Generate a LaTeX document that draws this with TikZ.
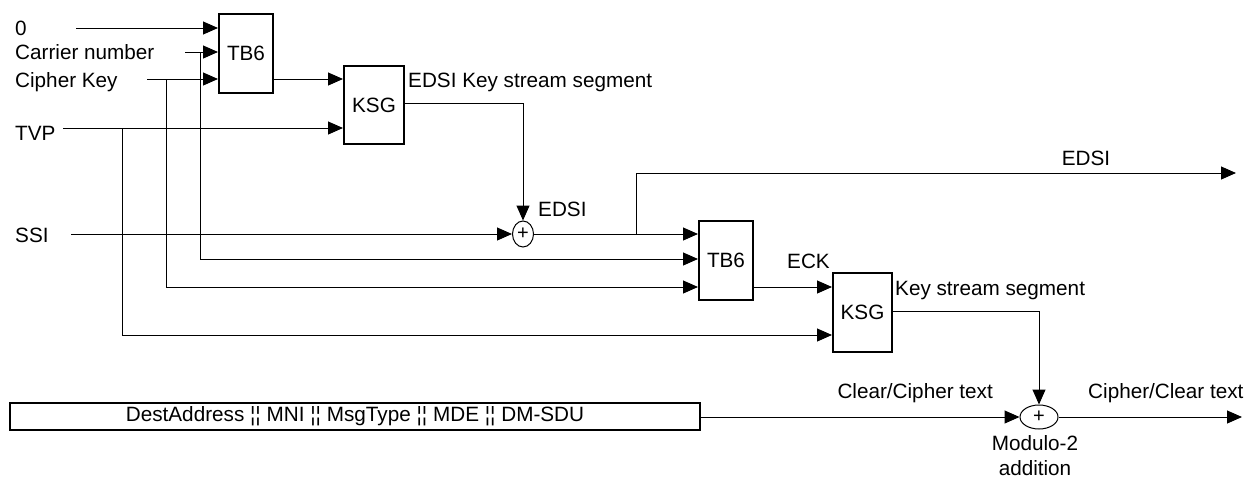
\documentclass[tikz,border=0pt]{standalone}
\usepackage{fontspec}
\setmainfont{Liberation Sans}
\usetikzlibrary{arrows.meta,shapes.geometric}
\begin{document}
\begin{tikzpicture}[x=1pt,y=-1pt,
  every node/.style={font=\fontsize{20.7}{24}\selectfont, inner sep=0pt},
  lbl/.style={anchor=base west},
  blk/.style={draw, line width=2pt, rectangle, minimum width=54pt, minimum height=79pt},
  xorop/.style={draw, line width=1pt, ellipse, font=\fontsize{20}{20}\selectfont},
  ln/.style={line width=1pt},
  arr/.style={line width=1pt, -{Triangle[length=15pt,width=13pt]}}]
\useasboundingbox (0,0) rectangle (1247,477);
% labels
\node[lbl] (l0) at (15,35) {0};
\node[lbl] (lcar) at (15,59) {Carrier number};
\node[lbl] (lck) at (15,87) {Cipher Key};
\node[lbl] (ltvp) at (15,140) {TVP};
\node[lbl] (lssi) at (15,242) {SSI};
% blocks
\node[blk] (tb1) at (246,53.5) {TB6};
\node[blk, minimum width=60pt, minimum height=78pt] (ksg1) at (374,105) {KSG};
\node[blk] (tb2) at (726,260.5) {TB6};
\node[blk, minimum width=59pt] (ksg2) at (862.5,312.5) {KSG};
\node[xorop, minimum width=21pt, minimum height=26pt] (xor1) at (523,234) {+};
\node[xorop, minimum width=38pt, minimum height=24pt] (xor2) at (1039,417) {+};
\node[draw, line width=2pt, minimum width=690pt, minimum height=27pt] (bar) at (355,416.5) {DestAddress ¦¦ MNI ¦¦ MsgType ¦¦ MDE ¦¦ DM-SDU};
% text labels
\node[lbl] (tksg1) at (408,87) {EDSI Key stream segment};
\node[lbl] (tedsi1) at (538,216) {EDSI};
\node[anchor=base] (tedsi2) at (1086,165) {EDSI};
\node[lbl] (teck) at (787,268) {ECK};
\node[lbl] (tksg2) at (895,295) {Key stream segment};
\node[anchor=base east] (tclear) at (993,398) {Clear/Cipher text};
\node[lbl] (tcipher) at (1088,398) {Cipher/Clear text};
\node[anchor=base] (tmod) at (1035,450) {Modulo-2};
\node[anchor=base] (tadd) at (1035,475) {addition};
% coordinates
\coordinate (s0) at (76,28);
\coordinate (scar) at (185,52);
\coordinate (sck) at (147,79);
\coordinate (stvp) at (63,128);
\coordinate (sssi) at (71,234);
\coordinate (jcar) at (200,52);
\coordinate (jck) at (166,79);
\coordinate (jtvp) at (122,128);
\coordinate (bcar) at (200,259);
\coordinate (bck) at (166,287);
\coordinate (btvp) at (122,335);
\coordinate (jedsi) at (636,234);
\coordinate (tedsi) at (636,173);
\coordinate (eedsi) at (1236,173);
\coordinate (eout) at (1242,417);
% connectors
\draw[arr] (s0) -- (s0 -| tb1.west);
\draw[arr] (scar) -- (scar -| tb1.west);
\draw[arr] (sck) -- (sck -| tb1.west);
\draw[arr] (stvp) -- (stvp -| ksg1.west);
\draw[arr] (sssi) -- (xor1.west);
\draw[arr] (tb1.east |- sck) -- (ksg1.west |- sck);
\draw[arr] (ksg1.east |- 0,103) -| (xor1.north);
\draw[arr] (xor1.east) -- (tb2.west |- xor1);
\draw[ln] (jedsi) -- (tedsi);
\draw[arr] (tedsi) -- (eedsi);
\draw[ln] (jcar) -- (bcar);
\draw[arr] (bcar) -- (bcar -| tb2.west);
\draw[ln] (jck) -- (bck);
\draw[arr] (bck) -- (bck -| tb2.west);
\draw[ln] (jtvp) -- (btvp);
\draw[arr] (btvp) -- (btvp -| ksg2.west);
\draw[arr] (tb2.east |- bck) -- (ksg2.west |- bck);
\draw[arr] (ksg2.east |- 0,311) -| (xor2.north);
\draw[arr] (bar.east |- xor2) -- (xor2.west);
\draw[arr] (xor2.east) -- (eout);
\end{tikzpicture}
\end{document}
